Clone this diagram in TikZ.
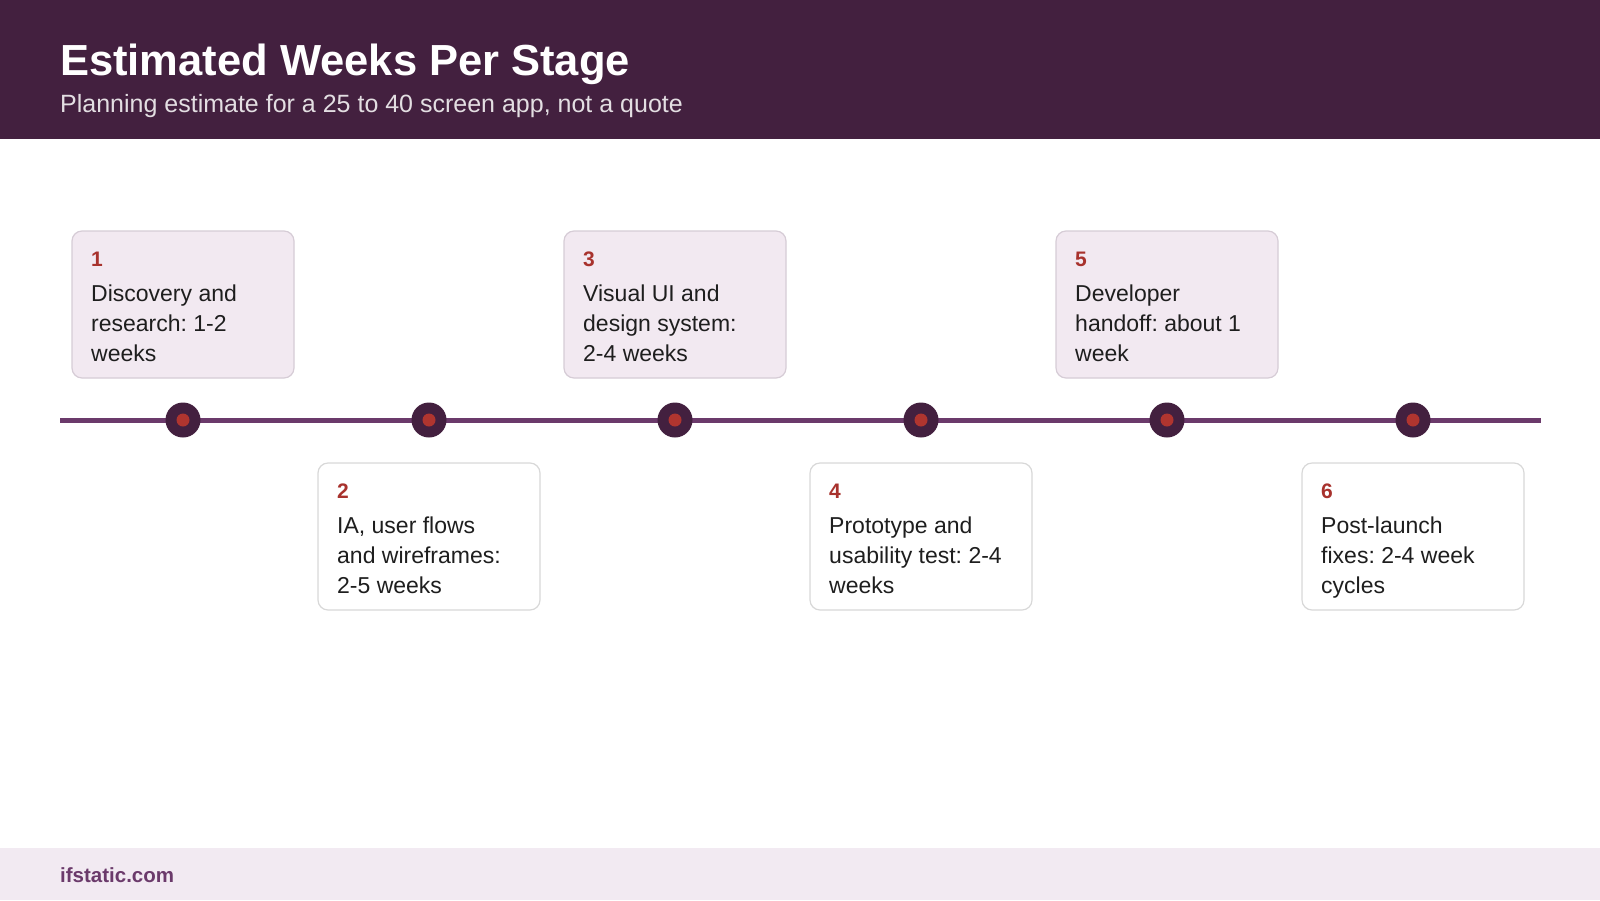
\documentclass[tikz,border=0pt]{standalone}
\usepackage{fontspec}
\setmainfont{Liberation Sans}
\frenchspacing
\definecolor{hdr}{HTML}{43203F}
\definecolor{tl}{HTML}{6B3A6B}
\definecolor{dotin}{HTML}{B0352F}
\definecolor{num}{HTML}{A8322D}
\definecolor{boxa}{HTML}{F2E9F1}
\definecolor{bda}{HTML}{D6CCD6}
\definecolor{bdb}{HTML}{D8D8D8}
\definecolor{foot}{HTML}{F2EAF2}
\definecolor{txt}{HTML}{1E1E1E}
\begin{document}
\begin{tikzpicture}[x=1pt,y=-1pt,
  card/.style={draw=#1,line width=1.2pt,rounded corners=10pt},
  lbl/.style={anchor=north west,inner sep=0pt,align=left,text=txt,font=\fontsize{23}{30}\selectfont},
  nm/.style={anchor=base west,inner sep=0pt,text=num,font=\bfseries\fontsize{21}{24}\selectfont}]
\useasboundingbox (0,0) rectangle (1600,900);
\fill[hdr] (0,0) rectangle (1600,139);
\node[anchor=base west,inner sep=0pt,text=white,font=\bfseries\fontsize{43.5}{48}\selectfont] (title) at (60,75) {Estimated Weeks Per Stage};
\node[anchor=base west,inner sep=0pt,text=white!85!hdr,font=\fontsize{25}{30}\selectfont] (sub) at (60,112) {Planning estimate for a 25 to 40 screen app, not a quote};
\fill[foot] (0,848) rectangle (1600,900);
\node[anchor=base west,inner sep=0pt,text=tl,font=\bfseries\fontsize{20.5}{24}\selectfont] (ft) at (60,882) {ifstatic.com};
\coordinate (l0) at (60,420);
\coordinate (l1) at (1541,420);
\draw[tl,line width=5pt] (l0) -- (l1);
\foreach \i/\x/\up/\t in {1/183/1/{Discovery and\\research: 1-2\\weeks},
  2/429/0/{IA, user flows\\and wireframes:\\2-5 weeks},
  3/675/1/{Visual UI and\\design system:\\2-4 weeks},
  4/921/0/{Prototype and\\usability test: 2-4\\weeks},
  5/1167/1/{Developer\\handoff: about 1\\week},
  6/1413/0/{Post-launch\\fixes: 2-4 week\\cycles}}{
  \fill[hdr] (\x,420) circle (17.5);
  \fill[dotin] (\x,420) circle (6.5);
  \ifnum\up=1
    \draw[card=bda,fill=boxa] (\x-111,231) rectangle (\x+111,378);
    \node[nm] (n\i) at (\x-92,266) {\i};
    \node[lbl] (t\i) at (\x-92,285) {\t};
  \else
    \draw[card=bdb,fill=white] (\x-111,463) rectangle (\x+111,610);
    \node[nm] (n\i) at (\x-92,498) {\i};
    \node[lbl] (t\i) at (\x-92,517) {\t};
  \fi
}
\end{tikzpicture}
\end{document}
